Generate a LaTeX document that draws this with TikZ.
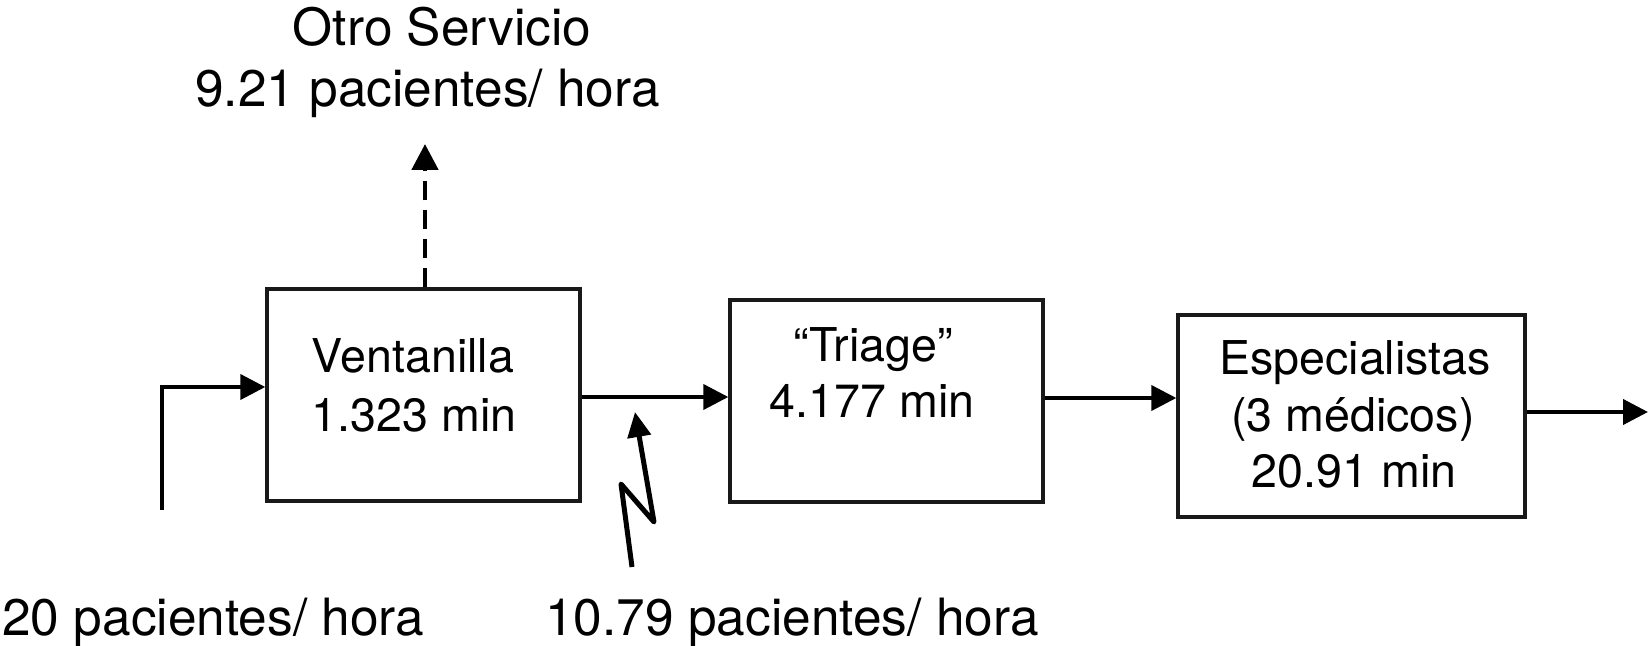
\documentclass[tikz,border=0pt]{standalone}
\usepackage{fontspec}
\setmainfont{TeX Gyre Heros}
\usetikzlibrary{arrows.meta}
\begin{document}
\begin{tikzpicture}[x=0.5pt,y=-0.5pt,
  box/.style={draw=black!90,line width=1.7pt,minimum width=#1,inner sep=0pt},
  lbl/.style={anchor=base,inner sep=0pt,font=\fontsize{23.3}{28}\selectfont},
  olbl/.style={anchor=base,inner sep=0pt,font=\fontsize{25.7}{30}\selectfont},
  arr/.style={line width=2pt,-{Triangle[length=12.5pt,width=12.5pt]}},
  dasharr/.style={line width=2.4pt,dash pattern=on 9.5pt off 5pt,-{Triangle[length=13pt,width=13pt]}},
  zigarr/.style={line width=2.5pt,line join=round,-{Triangle[length=12.5pt,width=11.5pt]}}]
\useasboundingbox (0,0) rectangle (1650,646);
% boxes
\node[box=156.5pt,minimum height=106pt] (b1) at (423.5,395) {};
\node[box=156.5pt,minimum height=101pt] (b2) at (886.5,401) {};
\node[box=173.5pt,minimum height=101pt] (b3) at (1351.5,416) {};
% box texts
\node[lbl] (v1) at (413,373) {Ventanilla};
\node[lbl] (v2) at (414,432) {1.323 min};
\node[lbl] (t1) at (873,362) {“Triage”};
\node[lbl] (t2) at (872,418) {4.177 min};
\node[lbl] (e1) at (1355,375) {Especialistas};
\node[lbl] (e2) at (1353,431.5) {(3 médicos)};
\node[lbl] (e3) at (1354,488) {20.91 min};
% outside texts
\node[olbl] (o1) at (442,46) {Otro Servicio};
\node[olbl] (o2) at (427.5,107) {9.21 pacientes/ hora};
\node[olbl,anchor=base west] (in20) at (2,635) {20 pacientes/ hora};
\node[olbl,anchor=base west] (in10) at (545,635) {10.79 pacientes/ hora};
% coordinates
\coordinate (src) at (162,510);
\coordinate (r0) at (0,387);
\coordinate (r1) at (0,397);
\coordinate (r2) at (0,398);
\coordinate (r3) at (0,412);
\coordinate (out) at (1648,412);
\coordinate (up) at (425,144);
\coordinate (z0) at (632,567);
\coordinate (z1) at (621,484);
\coordinate (z2) at (654,522);
\coordinate (z3) at (635,412);
% connectors
\draw[arr] (src) |- (b1.west|-r0);
\draw[arr] (b1.east|-r1) -- (b2.west|-r1);
\draw[arr] (b2.east|-r2) -- (b3.west|-r2);
\draw[arr] (b3.east|-r3) -- (out);
\draw[dasharr] (b1.north-|up) -- (up);
\draw[zigarr] (z0) -- (z1) -- (z2) -- (z3);
\end{tikzpicture}
\end{document}
